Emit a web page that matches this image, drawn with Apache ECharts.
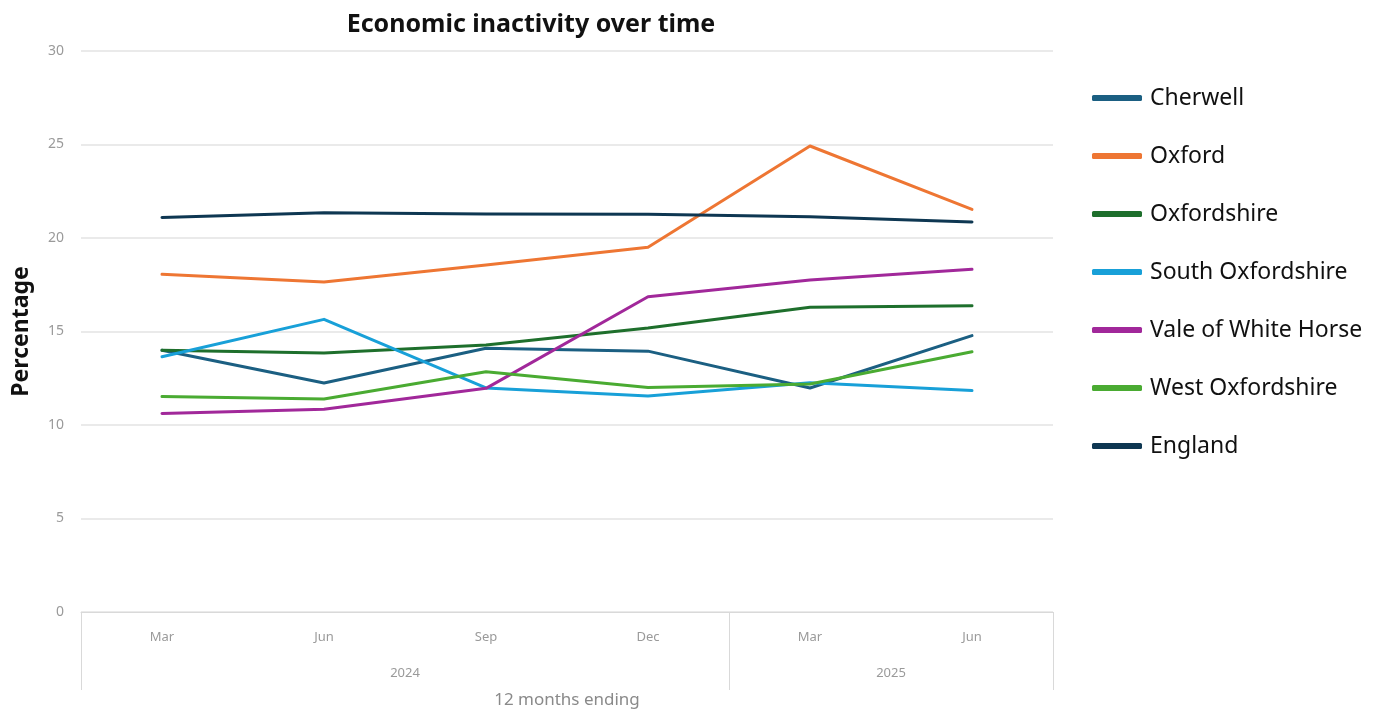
<!DOCTYPE html>
<html>
<head>
<meta charset="utf-8">
<title>Economic inactivity over time</title>
<script src="https://cdn.jsdelivr.net/npm/echarts@6/dist/echarts.min.js"></script>
<style>
  html, body { margin: 0; padding: 0; background: #ffffff; }
  #chart { width: 1381px; height: 711px; }
</style>
</head>
<body>
<div id="chart"></div>
<script>
// Twelve-month periods ending in each quarter
const months = ['Mar', 'Jun', 'Sep', 'Dec', 'Mar', 'Jun'];
// Year grouping row: one slot per category boundary, label in the middle of each year's span
const yearSlots = ['', '', '2024', '', '', '2025', ''];
const yearDividers = [0, 4, 6];

// Economic inactivity rate (%) by area
const cherwell          = [14.0, 12.25, 14.1, 13.95, 11.98, 14.78];
const oxford            = [18.06, 17.65, 18.56, 19.5, 24.92, 21.53];
const oxfordshire       = [14.0, 13.85, 14.28, 15.19, 16.3, 16.38];
const southOxfordshire  = [13.65, 15.65, 11.98, 11.55, 12.26, 11.84];
const valeOfWhiteHorse  = [10.62, 10.84, 11.96, 16.86, 17.75, 18.33];
const westOxfordshire   = [11.52, 11.39, 12.85, 12.01, 12.19, 13.92];
const england           = [21.1, 21.35, 21.28, 21.27, 21.14, 20.86];

const yTicks = { min: 0, max: 30, interval: 5 };

const seriesDefs = [
  { name: 'Cherwell',            data: cherwell,         color: '#1b5f82' },
  { name: 'Oxford',              data: oxford,           color: '#ee7633' },
  { name: 'Oxfordshire',         data: oxfordshire,      color: '#1e6f2c' },
  { name: 'South Oxfordshire',   data: southOxfordshire, color: '#18a0d8' },
  { name: 'Vale of White Horse', data: valeOfWhiteHorse, color: '#a1289a' },
  { name: 'West Oxfordshire',    data: westOxfordshire,  color: '#4aab32' },
  { name: 'England',             data: england,          color: '#0e3752' }
];

const font = '"Noto Sans", "Open Sans", sans-serif';
const chart = echarts.init(document.getElementById('chart'), null, { renderer: 'canvas' });

chart.setOption({
  backgroundColor: '#ffffff',
  animation: false,
  textStyle: { fontFamily: font },
  title: {
    text: 'Economic inactivity over time',
    left: 531,
    textAlign: 'center',
    top: 12,
    padding: 0,
    textStyle: { fontFamily: font, fontSize: 25, fontWeight: 'bold', color: '#111111' }
  },
  legend: {
    orient: 'vertical',
    left: 1092,
    top: 86,
    padding: 0,
    itemWidth: 50,
    itemHeight: 6,
    itemGap: 34,
    icon: 'roundRect',
    textStyle: { fontFamily: font, fontSize: 23, color: '#111111', lineHeight: 24, padding: [0, 0, 0, 3] },
    data: seriesDefs.map(s => s.name)
  },
  grid: { left: 81, right: 328, top: 51, bottom: 99, outerBoundsMode: 'none', containLabel: false },
  xAxis: [
    {
      type: 'category',
      data: months,
      boundaryGap: true,
      axisLine: { show: true, lineStyle: { color: '#d9d9d9', width: 1 } },
      axisTick: { show: false },
      axisLabel: { color: '#9a9a9a', fontSize: 13, margin: 19, fontFamily: font }
    },
    {
      type: 'category',
      data: yearSlots,
      boundaryGap: false,
      position: 'bottom',
      axisLine: { show: false },
      axisTick: {
        show: true,
        length: 78,
        interval: (i) => yearDividers.includes(i),
        lineStyle: { color: '#d9d9d9', width: 1 }
      },
      axisLabel: {
        interval: (i, v) => v !== '',
        color: '#9a9a9a',
        fontSize: 13,
        margin: 55,
        fontFamily: font
      },
      name: '12 months ending',
      nameLocation: 'middle',
      nameGap: 80,
      nameTextStyle: { color: '#8a8a8a', fontSize: 17, fontFamily: font }
    }
  ],
  yAxis: {
    type: 'value',
    min: yTicks.min,
    max: yTicks.max,
    interval: yTicks.interval,
    name: 'Percentage',
    nameLocation: 'middle',
    nameGap: 48,
    nameTextStyle: { fontSize: 23, fontWeight: 'bold', color: '#111111', fontFamily: font },
    axisLine: { show: false },
    axisTick: { show: false },
    axisLabel: { color: '#9a9a9a', fontSize: 14, margin: 17, fontFamily: font },
    splitLine: { lineStyle: { color: '#e3e3e3', width: 1.5 } }
  },
  series: seriesDefs.map(s => ({
    name: s.name,
    type: 'line',
    xAxisIndex: 0,
    data: s.data,
    symbol: 'none',
    smooth: false,
    color: s.color,
    lineStyle: { color: s.color, width: 3, cap: 'round', join: 'round' },
    itemStyle: { color: s.color },
    emphasis: { disabled: true }
  }))
});
</script>
</body>
</html>
